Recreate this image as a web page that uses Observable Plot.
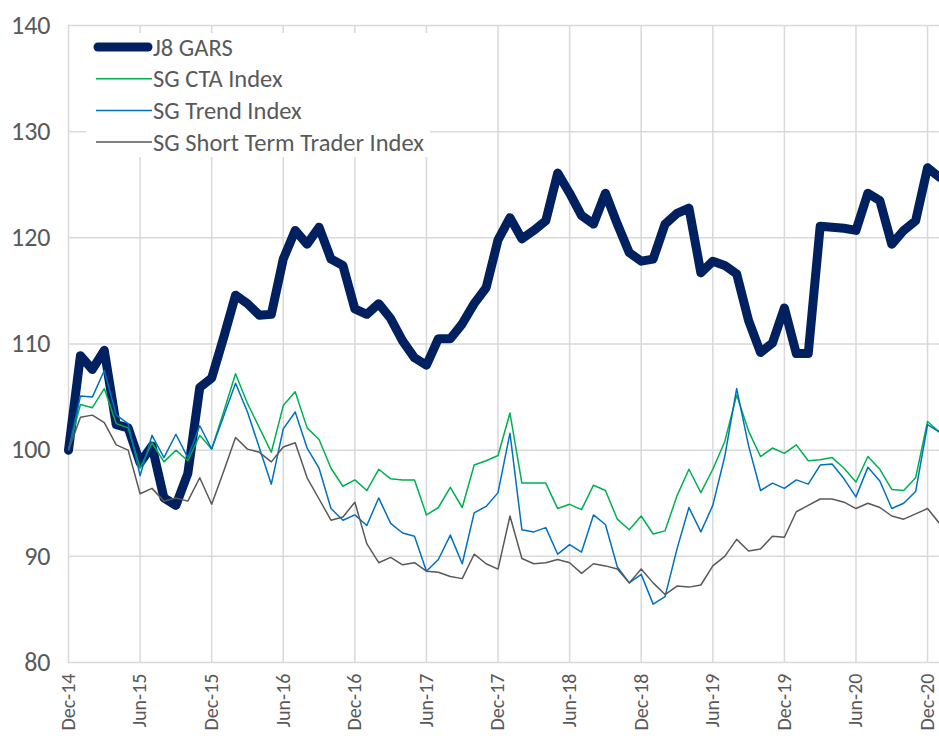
<!DOCTYPE html>
<html>
<head>
<meta charset="utf-8">
<script src="https://cdn.jsdelivr.net/npm/d3@7"></script>
<script src="https://cdn.jsdelivr.net/npm/@observablehq/plot@0.6"></script>
<style>
  html, body { margin: 0; padding: 0; background: #fff; }
  #wrap { position: relative; width: 939px; height: 742px; overflow: hidden; }
  #legend { position: absolute; left: 86px; top: 33px; width: 344px; height: 124px; background: #fff; }
</style>
</head>
<body>
<div id="wrap">
  <div id="chart"></div>
  <div id="legend"></div>
</div>
<script>
const tickLabels = ["Dec-14","Jun-15","Dec-15","Jun-16","Dec-16","Jun-17","Dec-17","Jun-18","Dec-18","Jun-19","Dec-19","Jun-20","Dec-20"];
const tickIndex = [0,6,12,18,24,30,36,42,48,54,60,66,72];
const yTicks = [80,90,100,110,120,130,140];

const j8Gars = [100.0,108.9,107.6,109.4,102.4,102.1,98.8,100.4,95.5,94.8,97.8,105.9,106.8,110.6,114.6,113.8,112.7,112.8,118.0,120.7,119.4,121.0,118.0,117.4,113.3,112.8,113.8,112.4,110.3,108.7,108.0,110.5,110.5,111.9,113.8,115.3,119.8,121.9,119.9,120.7,121.6,126.1,124.2,122.1,121.3,124.2,121.3,118.6,117.8,118.0,121.3,122.3,122.8,116.7,117.8,117.4,116.6,112.2,109.2,110.1,113.4,109.1,109.1,121.1,121.0,120.9,120.7,124.2,123.5,119.4,120.7,121.6,126.6,125.7];
const sgCta = [100.0,104.3,104.0,105.8,102.5,102.1,98.3,100.7,98.9,100.0,99.0,101.4,100.1,103.6,107.2,104.4,102.1,99.8,104.2,105.5,102.1,101.0,98.3,96.6,97.2,96.2,98.2,97.3,97.2,97.2,93.9,94.6,96.5,94.6,98.6,99.0,99.5,103.5,96.9,96.9,96.9,94.5,94.9,94.4,96.7,96.2,93.5,92.5,93.8,92.1,92.4,95.7,98.2,96.0,98.2,100.8,105.2,101.8,99.4,100.2,99.7,100.5,99.0,99.1,99.3,98.3,97.0,99.4,98.2,96.3,96.2,97.4,102.7,101.7];
const sgTrend = [100.0,105.1,105.0,107.5,103.3,102.5,97.6,101.4,99.3,101.5,99.3,102.3,100.1,103.2,106.3,103.6,100.2,96.8,102.0,103.6,100.2,98.3,94.5,93.4,93.9,92.9,95.5,93.1,92.2,91.9,88.6,89.7,92.0,89.3,94.1,94.7,96.0,101.6,92.5,92.3,92.7,90.2,91.1,90.4,93.9,93.0,89.0,87.5,88.3,85.5,86.2,90.7,94.6,92.3,94.8,99.4,105.8,100.4,96.2,96.9,96.4,97.2,96.8,98.6,98.7,97.3,95.6,98.4,97.1,94.5,95.0,96.1,102.4,101.7];
const sgStt = [100.0,103.1,103.3,102.6,100.5,100.0,95.9,96.4,95.2,95.5,95.2,97.4,94.9,98.0,101.2,100.1,99.8,98.9,100.3,100.7,97.4,95.4,93.4,93.7,95.1,91.2,89.4,89.9,89.2,89.4,88.6,88.5,88.1,87.9,90.2,89.3,88.8,93.8,89.8,89.3,89.4,89.7,89.4,88.4,89.3,89.1,88.8,87.5,88.8,87.5,86.4,87.2,87.1,87.3,89.1,90.0,91.6,90.5,90.7,91.9,91.8,94.2,94.8,95.4,95.4,95.1,94.5,95.0,94.6,93.8,93.5,94.0,94.5,93.1];

const seriesNames = ["J8 GARS","SG CTA Index","SG Trend Index","SG Short Term Trader Index"];
const seriesColors = ["#002060","#00B050","#0070C0","#595959"];
const seriesWidths = [9, 1.5, 1.5, 1.5];
const seriesValues = [j8Gars, sgCta, sgTrend, sgStt];

const rows = seriesValues.flatMap((vals, s) => vals.map((v, i) => ({series: seriesNames[s], i, v})));

const FONT = "Calibri, Carlito, 'Open Sans', sans-serif";

const chart = Plot.plot({
  width: 939,
  height: 742,
  marginLeft: 68,
  marginRight: 0,
  marginTop: 25,
  marginBottom: 80,
  style: {fontFamily: FONT, background: "#fff", overflow: "visible"},
  x: {type: "linear", domain: [0, 73]},
  y: {domain: [80, 140]},
  marks: [
    Plot.gridX(tickIndex, {stroke: "#d9d9d9", strokeOpacity: 1, strokeWidth: 1.5}),
    Plot.gridY(yTicks, {stroke: "#d9d9d9", strokeOpacity: 1, strokeWidth: 1.5}),
    ...seriesNames.map((name, s) =>
      Plot.line(rows.filter(d => d.series === name), {
        x: "i", y: "v", stroke: seriesColors[s], strokeWidth: seriesWidths[s],
        strokeLinejoin: "round", strokeLinecap: s === 0 ? "round" : "butt"
      })
    ),
    Plot.axisY(yTicks, {tickSize: 0, tickPadding: 18, fontSize: 26, fill: "#595959", label: null}),
    Plot.axisX(tickIndex, {tickSize: 0, tickPadding: 11, tickRotate: -90, fontSize: 20, fill: "#595959",
      tickFormat: i => tickLabels[tickIndex.indexOf(i)], label: null, style: {letterSpacing: "1.5px"}})
  ]
});
document.getElementById("chart").appendChild(chart);

// legend
const lg = d3.select("#legend").append("svg").attr("width", 344).attr("height", 124);
seriesNames.forEach((name, s) => {
  const cy = 14 + s * 31.7;
  lg.append("line").attr("x1", s === 0 ? 12 : 10).attr("x2", s === 0 ? 62 : 66)
    .attr("y1", cy).attr("y2", cy)
    .attr("stroke", seriesColors[s]).attr("stroke-width", s === 0 ? 9 : 1.5)
    .attr("stroke-linecap", s === 0 ? "round" : "butt");
  lg.append("text").attr("x", 67).attr("y", cy).attr("dy", "0.35em")
    .attr("font-family", FONT).attr("font-size", 24.5).attr("fill", "#595959").text(name);
});
</script>
</body>
</html>
